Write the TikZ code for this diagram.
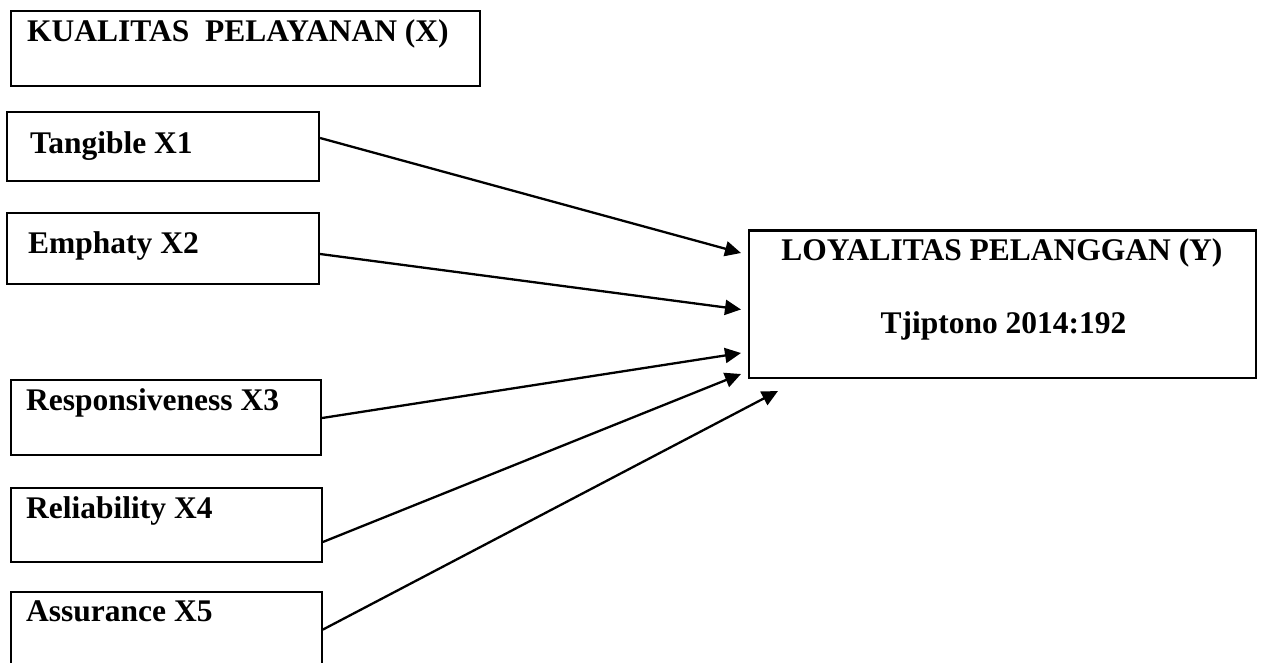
\documentclass[tikz,border=0pt]{standalone}
\usepackage{fontspec}
\setmainfont{Liberation Serif}
\usetikzlibrary{arrows.meta}
\begin{document}
\begin{tikzpicture}[x=1pt,y=-1pt,
  box/.style={draw=black,line width=2.3pt,rectangle,inner sep=0pt},
  lbl/.style={inner sep=0pt,font=\fontsize{31.5}{36}\selectfont\bfseries},
  arr/.style={line width=2.3pt,-{Triangle[length=16pt,width=15pt]}}]
\useasboundingbox (0,0) rectangle (1262,662);
% boxes
\node[box,minimum width=469.3pt,minimum height=75.3pt] (k) at (245.3,48.3) {};
\node[box,minimum width=312.3pt,minimum height=69pt] (b1) at (162.8,146.2) {};
\node[box,minimum width=312.3pt,minimum height=71.3pt] (b2) at (162.8,248.3) {};
\node[box,minimum width=310.3pt,minimum height=75pt] (b3) at (165.8,417.5) {};
\node[box,minimum width=311pt,minimum height=74pt] (b4) at (166.2,525) {};
\node[box,minimum width=311pt,minimum height=74.7pt] (b5) at (166.2,629.6) {};
\node[box,minimum width=507pt,minimum height=147.5pt] (y) at (1002.5,304.2) {};
% labels
\node[lbl,anchor=base west] (tk) at (27,41.7) {KUALITAS\ \ PELAYANAN (X)};
\node[lbl,anchor=base west] (t1) at (30,153) {Tangible X1};
\node[lbl,anchor=base west] (t2) at (28,253.3) {Emphaty X2};
\node[lbl,anchor=base west] (t3) at (26,410) {Responsiveness X3};
\node[lbl,anchor=base west] (t4) at (26,518.3) {Reliability X4};
\node[lbl,anchor=base west] (t5) at (26,621.7) {Assurance X5};
\node[lbl,anchor=base] (ty1) at (1002,260) {LOYALITAS PELANGGAN (Y)};
\node[lbl,anchor=base] (ty2) at (1003.5,333) {Tjiptono 2014:192};
% arrow ends
\coordinate (e1) at (741,253);
\coordinate (e2) at (741,309.5);
\coordinate (e3) at (741,353);
\coordinate (e4) at (741,374);
\coordinate (e5) at (778,391);
% connectors
\draw[arr] ([yshift=8.2pt]b1.east) -- (e1);
\draw[arr] ([yshift=-5.7pt]b2.east) -- (e2);
\draw[arr] ([yshift=-0.5pt]b3.east) -- (e3);
\draw[arr] ([yshift=-17pt]b4.east) -- (e4);
\draw[arr] ([yshift=0pt]b5.east) -- (e5);
\end{tikzpicture}
\end{document}
